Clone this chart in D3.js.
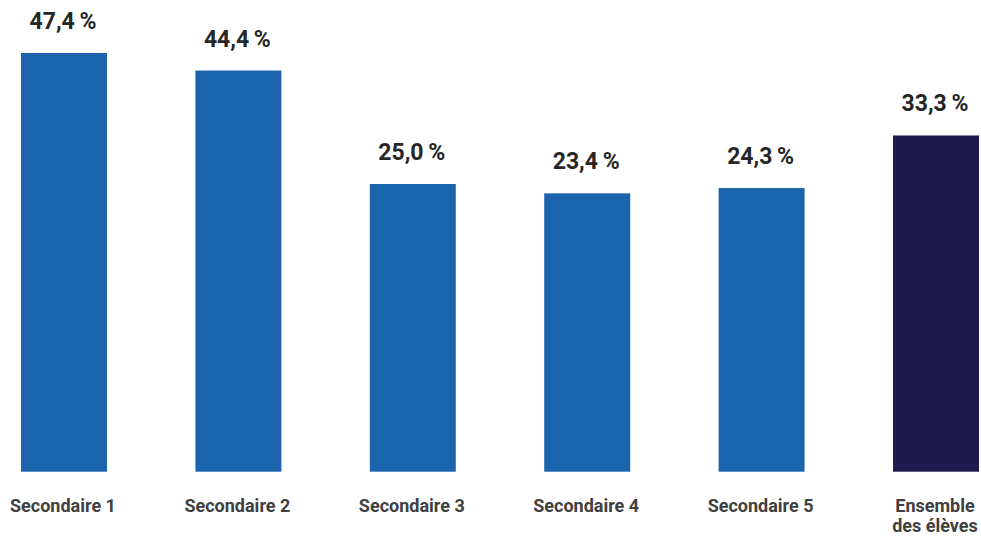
<!DOCTYPE html>
<html>
<head>
<meta charset="utf-8">
<script src="https://cdn.jsdelivr.net/npm/d3@7"></script>
<style>
	body { margin: 0; background: #fff; }
	svg { display: block; }
</style>
</head>
<body>
<div id="chart"></div>
<script>
// data
const categories = ['Secondaire 1', 'Secondaire 2', 'Secondaire 3', 'Secondaire 4', 'Secondaire 5', 'Ensemble des élèves']
const values = [47.4, 44.4, 25.0, 23.4, 24.3, 33.3]
const labelLines = [['Secondaire 1'], ['Secondaire 2'], ['Secondaire 3'], ['Secondaire 4'], ['Secondaire 5'], ['Ensemble', 'des élèves']]
const isTotal = [false, false, false, false, false, true]

const width = 981
const height = 539
// the bars do not start at zero in the original, the axis floor sits below it
const yFloor = -24.2

const svg = d3
	.select('#chart')
	.append('svg')
	.attr('width', width)
	.attr('height', height)

const x = d3.scaleBand().domain(categories).range([21, 979]).paddingInner(0.507).paddingOuter(0)
const y = d3.scaleLinear().domain([yFloor, 47.4]).range([471.7, 53])

const fmt = v => d3.format('.1f')(v).replace('.', ',') + '\u2009%'

svg.append('g')
	.selectAll('rect')
	.data(categories)
	.join('rect')
	.attr('x', d => x(d))
	.attr('width', x.bandwidth())
	.attr('y', (d, i) => y(values[i]))
	.attr('height', (d, i) => y(yFloor) - y(values[i]))
	.attr('fill', (d, i) => (isTotal[i] ? '#1e1a4b' : '#1a64ae'))

// value labels
svg.append('g')
	.selectAll('text')
	.data(categories)
	.join('text')
	.attr('x', d => x(d) + x.bandwidth() / 2 - 1)
	.attr('y', (d, i) => y(values[i]) - 24)
	.attr('text-anchor', 'middle')
	.attr('font-family', 'Roboto, sans-serif')
	.attr('font-weight', 700)
	.attr('font-size', '23px')
	.attr('fill', '#262626')
	.text((d, i) => fmt(values[i]))

// category labels
const cat = svg.append('g')
	.selectAll('text')
	.data(categories)
	.join('text')
	.attr('x', d => x(d) + x.bandwidth() / 2 - 1)
	.attr('y', 512)
	.attr('text-anchor', 'middle')
	.attr('font-family', 'Roboto, sans-serif')
	.attr('font-weight', 700)
	.attr('font-size', '18px')
	.attr('fill', '#404040')

cat.selectAll('tspan')
	.data((d, i) => labelLines[i])
	.join('tspan')
	.attr('x', function () { return d3.select(this.parentNode).attr('x') })
	.attr('dy', (d, j) => (j === 0 ? 0 : 20))
	.text(d => d)
</script>
</body>
</html>
